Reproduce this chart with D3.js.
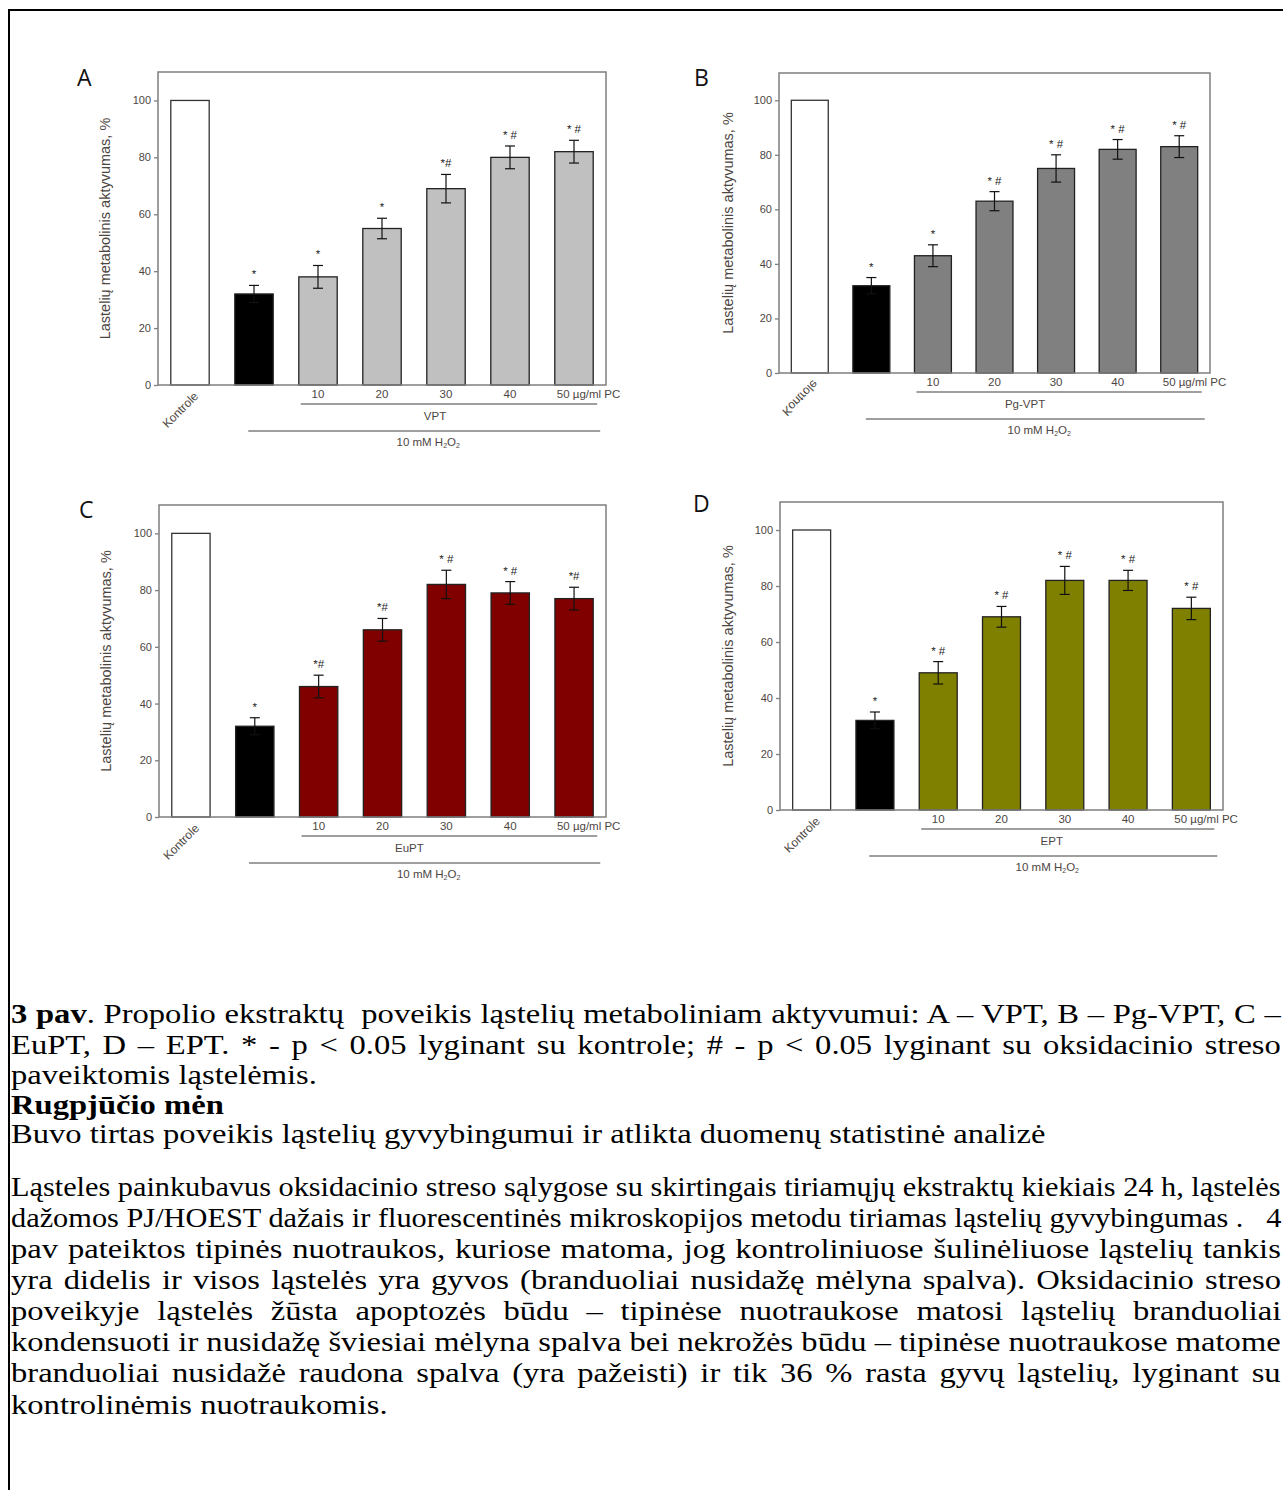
<!DOCTYPE html>
<html>
<head>
<meta charset="utf-8">
<script src="https://cdn.jsdelivr.net/npm/d3@7"></script>
<style>
body { margin: 0; background: #fff; width: 1283px; height: 1490px; position: relative; overflow: hidden; }
#frame { position: absolute; left: 8px; top: 9px; width: 1300px; height: 1500px; border-left: 2px solid #000; border-top: 2px solid #000; }
svg { position: absolute; left: 0; top: 0; }
.line { position: absolute; left: 11px; width: 1275px; font-family: "Liberation Serif", "Times New Roman", serif; font-size: 27px; line-height: 24px; color: #000; white-space: nowrap; }
</style>
</head>
<body>
<div id="frame"></div>
<svg id="chart" width="1283" height="900"></svg>
<div id="caption"></div>
<script>
// categories on the x axis (the second one has no tick label)
const categories = ["Kontrole", "H2O2", "10", "20", "30", "40", "50"];
const tickLabels = ["", "", "10", "20", "30", "40", "50 µg/ml PC"];
const yTicks = [0, 20, 40, 60, 80, 100];

// A - VPT
const valuesA = [100, 32, 38, 55, 69, 80, 82];
const errorsA = [0, 3, 4, 3.6, 5, 4, 4];
const marksA = ["", "*", "*", "*", "*#", "* #", "* #"];
// B - Pg-VPT
const valuesB = [100, 32, 43, 63, 75, 82, 83];
const errorsB = [0, 3, 4, 3.5, 5, 3.6, 4];
const marksB = ["", "*", "*", "* #", "* #", "* #", "* #"];
// C - EuPT
const valuesC = [100, 32, 46, 66, 82, 79, 77];
const errorsC = [0, 3, 4, 4, 5, 4, 4];
const marksC = ["", "*", "*#", "*#", "* #", "* #", "*#"];
// D - EPT
const valuesD = [100, 32, 49, 69, 82, 82, 72];
const errorsD = [0, 3, 4, 3.7, 5, 3.6, 4];
const marksD = ["", "*", "* #", "* #", "* #", "* #", "* #"];

const panelNames = ["A", "B", "C", "D"];
const groupNames = ["VPT", "Pg-VPT", "EuPT", "EPT"];
const fills = ["#c0c0c0", "#808080", "#800000", "#808000"];

// layout of each panel (pixel box of the plot area)
const boxes = [
    {x0: 158, x1: 606, y0: 72, y1: 385, lx: 77, ly: 86, gdx: -14, yl: -48, flip: false},
    {x0: 779, x1: 1210, y0: 73, y1: 373, lx: 694, ly: 86, gdx: -34, yl: -46, flip: true},
    {x0: 159, x1: 606, y0: 505, y1: 817, lx: 79, ly: 518, gdx: -40, yl: -48, flip: false},
    {x0: 780, x1: 1223, y0: 502, y1: 810, lx: 693, ly: 512, gdx: -16, yl: -47, flip: false}
];
const allValues = [valuesA, valuesB, valuesC, valuesD];
const allErrors = [errorsA, errorsB, errorsC, errorsD];
const allMarks = [marksA, marksB, marksC, marksD];

const svg = d3.select("#chart");
const axisGrey = "#7f7f7f";
const labelCol = "#4d463f";

var drawPanel = function(i) {
    const b = boxes[i];
    const values = allValues[i], errors = allErrors[i], marks = allMarks[i];
    const x = d3.scaleBand().domain(categories).range([b.x0, b.x1]).paddingInner(0.4).paddingOuter(0.2);
    const y = d3.scaleLinear().domain([0, 110]).range([b.y1, b.y0]);
    const bw = x.bandwidth();
    const g = svg.append("g").attr("font-family", "'Liberation Sans', Arial, sans-serif");

    // panel letter
    g.append("text").attr("x", b.lx).attr("y", b.ly)
        .attr("font-family", "'Open Sans', sans-serif").attr("font-size", 23)
        .attr("fill", "#111").text(panelNames[i]);

    const data = categories.map((c, k) => ({c: c, v: values[k], e: errors[k], m: marks[k], k: k}));

    // bars
    g.selectAll(".bar").data(data).enter().append("rect")
        .attr("x", d => x(d.c)).attr("width", bw)
        .attr("y", d => y(d.v)).attr("height", d => y(0) - y(d.v))
        .attr("fill", d => d.k == 0 ? "#fff" : (d.k == 1 ? "#000" : fills[i]))
        .attr("stroke", d => d.k == 0 ? "#333" : "#222")
        .attr("stroke-width", 1.3);

    // error bars
    const eb = g.selectAll(".err").data(data.filter(d => d.e > 0)).enter().append("g")
        .attr("stroke", "#111").attr("stroke-width", 1.2);
    eb.append("line").attr("x1", d => x(d.c) + bw / 2).attr("x2", d => x(d.c) + bw / 2)
        .attr("y1", d => y(d.v - d.e)).attr("y2", d => y(d.v + d.e));
    eb.append("line").attr("x1", d => x(d.c) + bw / 2 - 5).attr("x2", d => x(d.c) + bw / 2 + 5)
        .attr("y1", d => y(d.v + d.e)).attr("y2", d => y(d.v + d.e));
    eb.append("line").attr("x1", d => x(d.c) + bw / 2 - 5).attr("x2", d => x(d.c) + bw / 2 + 5)
        .attr("y1", d => y(d.v - d.e)).attr("y2", d => y(d.v - d.e));

    // significance marks
    g.selectAll(".mark").data(data.filter(d => d.m)).enter().append("text")
        .attr("x", d => x(d.c) + bw / 2).attr("y", d => y(d.v + d.e) - 7)
        .attr("text-anchor", "middle").attr("font-size", 11.5).attr("fill", "#222")
        .attr("xml:space", "preserve")
        .text(d => d.m);

    // frame
    g.append("rect").attr("x", b.x0).attr("y", b.y0)
        .attr("width", b.x1 - b.x0).attr("height", b.y1 - b.y0)
        .attr("fill", "none").attr("stroke", axisGrey).attr("stroke-width", 1.5);

    // y axis
    const yAxis = g.append("g").attr("transform", "translate(" + b.x0 + ",0)")
        .call(d3.axisLeft(y).tickValues(yTicks).tickSize(4).tickPadding(3));
    yAxis.select(".domain").remove();
    yAxis.selectAll("line").attr("stroke", axisGrey).attr("stroke-width", 1.3);
    yAxis.selectAll("text").attr("font-size", 11).attr("fill", labelCol)
        .attr("font-family", "'Liberation Sans', Arial, sans-serif");

    g.append("text")
        .attr("transform", "translate(" + (b.x0 + b.yl) + "," + ((b.y0 + b.y1) / 2) + ") rotate(-90)")
        .attr("text-anchor", "middle").attr("font-size", 14.5).attr("fill", labelCol)
        .text("Lastelių metabolinis aktyvumas, %");

    // x tick labels
    g.selectAll(".xt").data(data.filter(d => tickLabels[d.k])).enter().append("text")
        .attr("x", d => d.k == 6 ? x(d.c) + 2 : x(d.c) + bw / 2)
        .attr("y", b.y1 + 13)
        .attr("text-anchor", d => d.k == 6 ? "start" : "middle")
        .attr("font-size", 11.5).attr("fill", labelCol)
        .text(d => tickLabels[d.k]);

    // Kontrole
    const kx = x("Kontrole") + bw / 2 + 9, ky = b.y1 + 12;
    g.append("text")
        .attr("transform", "translate(" + kx + "," + ky + ") rotate(-45)" + (b.flip ? " scale(1,-1) translate(0,8)" : ""))
        .attr("text-anchor", "end").attr("font-size", 12).attr("fill", labelCol)
        .text("Kontrole");

    // bracket lines and group labels
    const l1a = x("10") + 2, l1b = x("50") + bw + 4;
    const l2a = x("H2O2") + bw * 0.35, l2b = x("50") + bw + 7;
    g.append("line").attr("x1", l1a).attr("x2", l1b).attr("y1", b.y1 + 19).attr("y2", b.y1 + 19)
        .attr("stroke", axisGrey).attr("stroke-width", 1.5);
    g.append("line").attr("x1", l2a).attr("x2", l2b).attr("y1", b.y1 + 46).attr("y2", b.y1 + 46)
        .attr("stroke", axisGrey).attr("stroke-width", 1.5);
    g.append("text").attr("x", (l1a + l1b) / 2 + b.gdx).attr("y", b.y1 + 35)
        .attr("text-anchor", "middle").attr("font-size", 11.5).attr("fill", labelCol)
        .text(groupNames[i]);
    const h = g.append("text").attr("x", (l2a + l2b) / 2 + 4).attr("y", b.y1 + 61)
        .attr("text-anchor", "middle").attr("font-size", 11.5).attr("fill", labelCol);
    h.append("tspan").text("10 mM H");
    h.append("tspan").attr("font-size", 7).attr("dy", 2).text("2");
    h.append("tspan").attr("dy", -2).text("O");
    h.append("tspan").attr("font-size", 7).attr("dy", 2).text("2");
}

for (var i = 0; i < 4; i++) drawPanel(i);

// caption and body text, one entry per printed line (j = justified)
const textLines = [
    {y: 1017, j: true, html: "<b>3 pav</b>. Propolio ekstraktų&nbsp; poveikis ląstelių metaboliniam aktyvumui: A – VPT, B – Pg-VPT, C –"},
    {y: 1048, j: true, html: "EuPT, D – EPT. * - p &lt; 0.05 lyginant su kontrole; # - p &lt; 0.05 lyginant su oksidacinio streso"},
    {y: 1078, j: false, html: "paveiktomis ląstelėmis."},
    {y: 1108, j: false, html: "<b>Rugpjūčio mėn</b>"},
    {y: 1137, j: false, html: "Buvo tirtas poveikis ląstelių gyvybingumui ir atlikta duomenų statistinė analizė"},
    {y: 1190, j: true, html: "Ląsteles painkubavus oksidacinio streso sąlygose su skirtingais tiriamųjų ekstraktų kiekiais 24 h, ląstelės"},
    {y: 1221, j: true, html: "dažomos PJ/HOEST dažais ir fluorescentinės mikroskopijos metodu tiriamas ląstelių gyvybingumas .&nbsp;&nbsp; 4"},
    {y: 1252, j: true, html: "pav pateiktos tipinės nuotraukos, kuriose matoma, jog kontroliniuose šulinėliuose ląstelių tankis"},
    {y: 1283, j: true, html: "yra didelis ir visos ląstelės yra gyvos (branduoliai nusidažę mėlyna spalva). Oksidacinio streso"},
    {y: 1314, j: true, html: "poveikyje ląstelės žūsta apoptozės būdu – tipinėse nuotraukose matosi ląstelių branduoliai"},
    {y: 1345, j: true, html: "kondensuoti ir nusidažę šviesiai mėlyna spalva bei nekrožės būdu – tipinėse nuotraukose matome"},
    {y: 1376, j: true, html: "branduoliai nusidažė raudona spalva (yra pažeisti) ir tik 36 % rasta gyvų ląstelių, lyginant su"},
    {y: 1408, j: false, html: "kontrolinėmis nuotraukomis."}
];

// the page text is printed a little wider than tall
const lineWidth = 1270, stretch = 1.207;
const cap = d3.select("#caption");
textLines.forEach(function(d) {
    const div = cap.append("div").attr("class", "line").style("top", (d.y - 15) + "px");
    const span = div.append("span").style("display", "inline-block").style("transform-origin", "0 0").html(d.html);
    const target = lineWidth / stretch;
    var w = span.node().offsetWidth;
    if (d.j && w < target) {
        const n = (span.node().textContent.match(/[ \u00a0]/g) || []).length;
        span.style("word-spacing", ((target - w) / n) + "px");
        w = span.node().offsetWidth;
    }
    var s = stretch;
    if (w > target) s = lineWidth / w;
    span.style("transform", "scaleX(" + s + ")");
});
</script>
</body>
</html>
